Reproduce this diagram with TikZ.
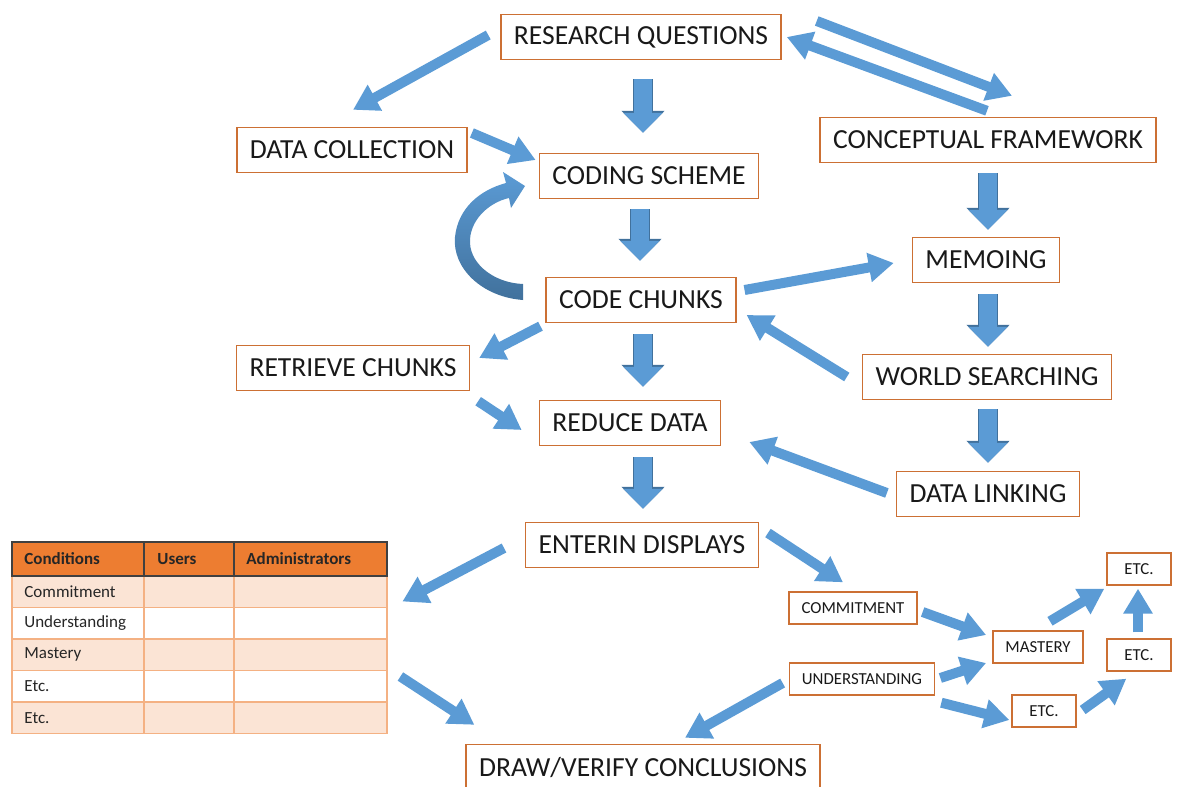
\documentclass[tikz,border=0pt]{standalone}
\usepackage{fontspec}
\setmainfont{Carlito}
\usetikzlibrary{arrows.meta,calc}
\definecolor{boxorange}{RGB}{204,112,52}
\definecolor{arrowblue}{RGB}{91,155,213}
\definecolor{arrowline}{RGB}{65,113,156}
\definecolor{hdrorange}{RGB}{237,125,49}
\definecolor{rowpeach}{RGB}{251,228,213}
\definecolor{gridorange}{RGB}{244,177,131}

\begin{document}
\begin{tikzpicture}[x=0.5pt,y=-0.5pt,
    box/.style={draw=boxorange,line width=0.7pt,fill=white,inner xsep=6.5pt,inner ysep=0pt,
      minimum height=22.5pt,font=\fontsize{13.8}{16}\selectfont,text=black!90},
    smallbox/.style={box,minimum height=16pt,minimum width=32pt,inner xsep=6.3pt,font=\fontsize{8.4}{10}\selectfont},
    arr/.style={draw=arrowblue,line width=5pt,-{Triangle[width=14pt,length=12.5pt]}},
    downarr/.style={preaction={draw=arrowline,line width=10pt,-{Triangle[width=21pt,length=11pt]}},
      draw=arrowblue,line width=9pt,-{Triangle[width=19pt,length=10pt]}},
    gridline/.style={draw=gridorange,line width=0.9pt},
    hdrline/.style={draw=black!75,line width=0.9pt},
    cell/.style={anchor=west,inner sep=0pt,font=\fontsize{8.5}{10}\selectfont,text=black!85},
    hcell/.style={cell,font=\fontsize{8.5}{10}\selectfont\bfseries}]
    \useasboundingbox (0,0) rectangle (1179,787);

    \node[box] (rq) at (641,37) {RESEARCH QUESTIONS};
    \node[box] (dc) at (352,150) {DATA COLLECTION};
    \node[box] (cs) at (649,176) {CODING SCHEME};
    \node[box] (cf) at (988,140) {CONCEPTUAL FRAMEWORK};
    \node[box] (memo) at (986,260) {MEMOING};
    \node[box] (cc) at (641,300) {CODE CHUNKS};
    \node[box] (rc) at (353,368) {RETRIEVE CHUNKS};
    \node[box] (ws) at (987,377) {WORLD SEARCHING};
    \node[box] (rd) at (630,423) {REDUCE DATA};
    \node[box] (dl) at (988,494) {DATA LINKING};
    \node[box] (ed) at (642,545) {ENTERIN DISPLAYS};
    \node[box] (dv) at (643,767) {DRAW/VERIFY CONCLUSIONS};

    \node[smallbox] (com) at (853,608) {COMMITMENT};
    \node[smallbox] (mas) at (1038,647) {MASTERY};
    \node[smallbox] (und) at (862,679) {UNDERSTANDING};
    \node[smallbox] (etcb) at (1044,711) {ETC.};
    \node[smallbox] (etcm) at (1139,655) {ETC.};
    \node[smallbox] (etct) at (1139,569) {ETC.};

    % table
    \node[inner sep=0pt,minimum width=187.5pt,minimum height=96pt] (tbl) at (199.5,637.5) {};
    \fill[hdrorange] (12,542) rectangle (387,576);
    \foreach \yt/\lab/\col in {576/Commitment/rowpeach,607.5/Understanding/white,639/Mastery/rowpeach,670.5/Etc./white,702/Etc./rowpeach}{
      \pgfmathsetmacro\yb{\yt+31.5}
      \fill[\col] (12,\yt) rectangle (387,\yb);
      \draw[gridline] (12,\yt) rectangle (387,\yb);
      \draw[gridline] (144,\yt) -- (144,\yb) (234,\yt) -- (234,\yb);
      \node[cell] at (24,\yt+15.75) {\lab};
    }
    \draw[hdrline] (12,542) rectangle (387,576) (144,542) -- (144,576) (234,542) -- (234,576);
    \node[hcell] at (24,559) {Conditions};
    \node[hcell] at (157,559) {Users};
    \node[hcell] at (246,559) {Administrators};

    % block arrows down the middle and the right
    \draw[downarr] ($(rq.south)+(2,19)$) -- ($(cs.north)+(-6,-20)$);
    \draw[downarr] ($(cs.south)+(-9,10)$) -- ($(cc.north)+(-1,-16)$);
    \draw[downarr] ($(cc.south)+(2,11)$) -- ($(rd.north)+(13,-13)$);
    \draw[downarr] ($(rd.south)+(13,11)$) -- ($(ed.north)+(1,-13)$);
    \draw[downarr] ($(cf.south)+(0,10)$) -- ($(memo.north)+(2,-7)$);
    \draw[downarr] ($(memo.south)+(2,11)$) -- ($(ws.north)+(1,-7)$);
    \draw[downarr] ($(ws.south)+(1,9)$) -- ($(dl.north)+(0,-8)$);

    \draw[arr] ($(rq.west)+(-12,-2)$) -- ($(dc.north)+(1,-17)$);
    \draw[arr] ($(rq.east)+(35,-16)$) -- ($(cf.north)+(24,-21)$);
    \draw[arr] ($(cf.north)+(-1,-6)$) -- ($(rq.east)+(5,0)$);
    \draw[arr] ($(dc.east)+(4,-17)$) -- ($(cs.west)+(-3,-16)$);
    \draw[arr] ($(cc.east)+(8,-10)$) -- ($(memo.west)+(-18,3)$);
    \draw[arr] ($(ws.west)+(-15,0)$) -- ($(cc.east)+(10,15)$);
    \draw[arr] ($(cc.south west)+(-5,3)$) -- ($(rc.east)+(9,-10)$);
    \draw[arr] ($(rc.south east)+(8,10)$) -- ($(rd.west)+(-17,7)$);
    \draw[arr] ($(dl.west)+(-9,-1)$) -- ($(rd.east)+(28,19)$);
    \draw[arr] ($(ed.west)+(-21,3)$) -- ($(tbl.east)+(15,-36)$);
    \draw[arr] ($(ed.east)+(9,-12)$) -- ($(com.north)+(-10,-9)$);
    \draw[arr] ($(tbl.east)+(13,39)$) -- ($(dv.north west)+(9,-19)$);
    \draw[arr] ($(und.west)+(-6,4)$) -- ($(dv.north)+(42,-6)$);
    \draw[arr] ($(com.east)+(5,4)$) -- ($(mas.west)+(-6,-12)$);
    \draw[arr] ($(und.east)+(5,-1)$) -- ($(mas.west)+(-6,16)$);
    \draw[arr] ($(und.south east)+(6,7)$) -- ($(etcb.west)+(-2,9)$);
    \draw[arr] ($(mas.north)+(12,-9)$) -- ($(etct.south west)+(-2,3)$);
    \draw[arr] ($(etcm.north)+(-1,-6)$) -- ($(etct.south)+(-1,3)$);
    \draw[arr] ($(etcb.east)+(6,-1)$) -- ($(etcm.south west)+(20,7)$);

    % curved arrow from code chunks back to coding scheme
    \shade[top color=arrowblue,bottom color=arrowline]
      (523,300) .. controls (482,297) and (452,268) .. (455,237)
      .. controls (458,208) and (480,190) .. (506,183)
      -- (503,172) -- (525,186) -- (511,208) -- (509,198)
      .. controls (487,203) and (469,222) .. (470,243)
      .. controls (471,265) and (495,283) .. (523,284) -- cycle;
\end{tikzpicture}
\end{document}
